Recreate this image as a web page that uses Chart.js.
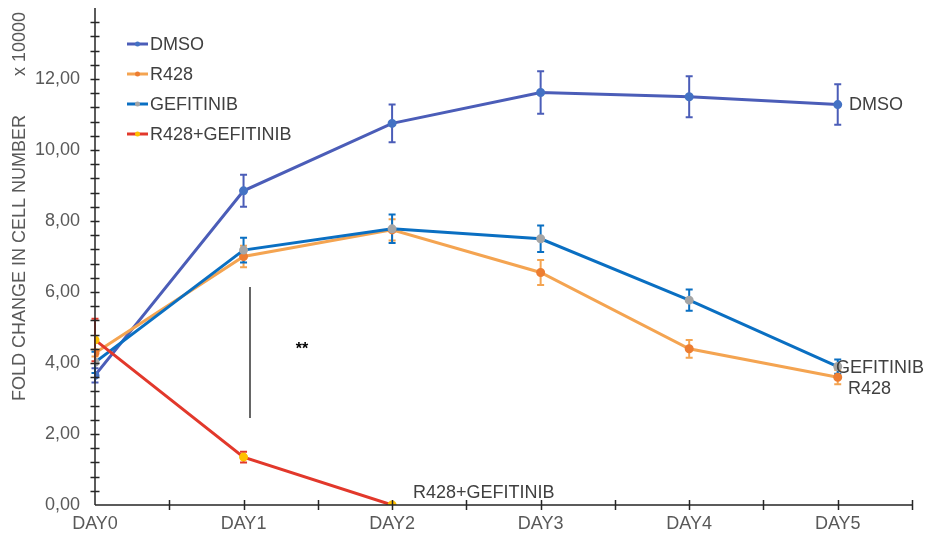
<!DOCTYPE html>
<html>
<head>
<meta charset="utf-8">
<script src="https://cdn.jsdelivr.net/npm/chart.js@4.4.1/dist/chart.umd.min.js"></script>
<style>
	html, body { margin: 0; padding: 0; background: #fff; }
	#wrap { width: 926px; height: 538px; position: relative; }
</style>
</head>
<body>
<div id="wrap"><canvas id="growthChart"></canvas></div>
<script>
	const days = ['DAY0', 'DAY1', 'DAY2', 'DAY3', 'DAY4', 'DAY5'];
	const dmso = [3.65, 8.85, 10.75, 11.62, 11.5, 11.28];
	const dmsoErr = [0.2, 0.45, 0.53, 0.6, 0.58, 0.57];
	const r428 = [4.28, 7.0, 7.75, 6.55, 4.4, 3.6];
	const r428Err = [0.1, 0.3, 0.3, 0.35, 0.25, 0.2];
	const gefitinib = [4.02, 7.18, 7.78, 7.5, 5.77, 3.9];
	const gefitinibErr = [0.3, 0.35, 0.4, 0.37, 0.3, 0.2];
	const combo = [4.65, 1.35, 0];
	const comboErr = [0.6, 0.15, 0];
	const yTicks = [0, 2, 4, 6, 8, 10, 12];

	const font = '"Liberation Sans", Arial, sans-serif';
	const textColor = '#404040';
	const tickColor = '#595959';

	const toPoints = values => values.map((v, i) => ({ x: i, y: v }));

	const series = [
		{ label: 'DMSO', values: dmso, err: dmsoErr, line: '#4B5DB8', point: '#4472C4', order: 3 },
		{ label: 'R428', values: r428, err: r428Err, line: '#F4A451', point: '#ED7D31', order: 2 },
		{ label: 'GEFITINIB', values: gefitinib, err: gefitinibErr, line: '#0A6FC2', point: '#A5A5A5', order: 1 },
		{ label: 'R428+GEFITINIB', values: combo, err: comboErr, line: '#E2382B', point: '#FFC000', order: 0 }
	];

	// error bars, axes with crossing ticks, legend and free text
	const decorations = {
		id: 'decorations',
		beforeDatasetsDraw(chart) {
			const { ctx, scales: { x, y } } = chart;
			ctx.save();
			ctx.lineWidth = 2;
			series.forEach(s => {
				ctx.strokeStyle = s.line;
				s.values.forEach((v, i) => {
					const e = s.err[i];
					if (!e) return;
					const px = x.getPixelForValue(i);
					const top = y.getPixelForValue(v + e);
					const bot = y.getPixelForValue(v - e);
					ctx.beginPath();
					ctx.moveTo(px, top); ctx.lineTo(px, bot);
					ctx.moveTo(px - 3.5, top); ctx.lineTo(px + 3.5, top);
					ctx.moveTo(px - 3.5, bot); ctx.lineTo(px + 3.5, bot);
					ctx.stroke();
				});
			});
			ctx.restore();
		},
		afterDraw(chart) {
			const { ctx, chartArea: a, scales: { x, y } } = chart;
			ctx.save();

			// axes
			ctx.strokeStyle = '#262626';
			ctx.lineWidth = 1.5;
			ctx.beginPath();
			ctx.moveTo(a.left, a.top); ctx.lineTo(a.left, a.bottom);
			ctx.moveTo(a.left, a.bottom); ctx.lineTo(a.right, a.bottom);
			for (let v = 0.4; v < 14; v += 0.4) {
				const py = Math.round(y.getPixelForValue(v)) + 0.5;
				ctx.moveTo(a.left - 4.5, py); ctx.lineTo(a.left + 4.5, py);
			}
			for (let v = 0.5; v <= 5.5; v += 0.5) {
				const px = Math.round(x.getPixelForValue(v)) + 0.5;
				ctx.moveTo(px, a.bottom - 5); ctx.lineTo(px, a.bottom + 5);
			}
			ctx.stroke();

			// legend
			ctx.font = '18px ' + font;
			ctx.textBaseline = 'middle';
			ctx.textAlign = 'left';
			series.forEach((s, i) => {
				const ly = 44 + i * 30;
				ctx.strokeStyle = s.line;
				ctx.lineWidth = 3;
				ctx.beginPath();
				ctx.moveTo(127, ly); ctx.lineTo(148, ly);
				ctx.stroke();
				ctx.fillStyle = s.point;
				ctx.beginPath();
				ctx.arc(137.5, ly, 2.5, 0, Math.PI * 2);
				ctx.fill();
				ctx.fillStyle = textColor;
				ctx.fillText(s.label, 150, ly + 1);
			});

			// end labels
			ctx.fillStyle = textColor;
			ctx.fillText('DMSO', 849, 105);
			ctx.fillText('GEFITINIB', 836, 368);
			ctx.fillText('R428', 848, 389);
			ctx.fillText('R428+GEFITINIB', 413, 493);

			// significance marker
			ctx.strokeStyle = '#666';
			ctx.lineWidth = 2;
			ctx.beginPath();
			ctx.moveTo(250, 287); ctx.lineTo(250, 418);
			ctx.stroke();
			ctx.fillStyle = '#000';
			ctx.font = 'bold 16px ' + font;
			ctx.textAlign = 'center';
			ctx.fillText('**', 302, 350);

			// y title and unit
			ctx.fillStyle = tickColor;
			ctx.font = '18px ' + font;
			ctx.translate(20, 258);
			ctx.rotate(-Math.PI / 2);
			ctx.fillText('FOLD CHANGE IN CELL NUMBER', 0, 0);
			ctx.rotate(Math.PI / 2);
			ctx.translate(-20, -258);
			ctx.translate(20, 44);
			ctx.rotate(-Math.PI / 2);
			ctx.fillText('x 10000', 0, 0);
			ctx.restore();
		}
	};

	new Chart(document.getElementById('growthChart'), {
		type: 'line',
		data: {
			datasets: series.map(s => ({
				label: s.label,
				data: toPoints(s.values),
				borderColor: s.line,
				backgroundColor: s.point,
				pointBackgroundColor: s.point,
				pointBorderColor: s.point,
				pointRadius: 3,
				borderWidth: 3,
				tension: 0,
				order: s.order
			}))
		},
		options: {
			responsive: true,
			maintainAspectRatio: false,
			animation: false,
			layout: { padding: { top: 8, right: 14, left: 0, bottom: 0 } },
			plugins: { legend: { display: false }, tooltip: { enabled: false } },
			scales: {
				x: {
					type: 'linear',
					min: 0,
					max: 5.5,
					afterFit: s => { s.height = 33; s.paddingLeft = 0; s.paddingRight = 0; },
					afterBuildTicks: s => { s.ticks = days.map((d, i) => ({ value: i })); },
					grid: { display: false, drawTicks: false },
					border: { display: false },
					ticks: {
						padding: 8,
						color: tickColor,
						font: { family: font, size: 18 },
						callback: v => days[v]
					}
				},
				y: {
					min: 0,
					max: 14,
					afterFit: s => { s.width = 95; s.paddingTop = 0; s.paddingBottom = 0; },
					afterBuildTicks: s => { s.ticks = yTicks.map(v => ({ value: v })); },
					grid: { display: false, drawTicks: false },
					border: { display: false },
					ticks: {
						padding: 15,
						color: tickColor,
						font: { family: font, size: 18 },
						callback: v => v.toFixed(2).replace('.', ',')
					}
				}
			}
		},
		plugins: [decorations]
	});
</script>
</body>
</html>
